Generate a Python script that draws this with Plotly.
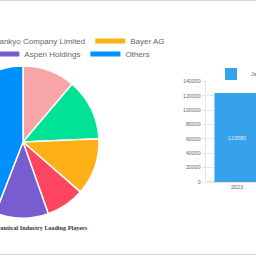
import plotly.graph_objects as go

# ---- data ----
player_labels = ["Takeda Pharmaceutical", "Daiichi Sankyo Company Limited", "Bayer AG",
                 "Pfizer Inc", "Aspen Holdings", "Others"]
player_shares = [11.2, 13.1, 12.1, 8.2, 11.3, 44.1]
player_colors = ["#F8A5A8", "#00E396", "#FEB019", "#FF4560", "#775DD0", "#008FFB"]
pie_title = "Japan Pharmaceutical Industry Leading Players"

bar_years = ["2023"]
bar_values = [123580]
bar_series = "Japan"
bar_color = "#36A2EB"

# ---- geometry (figure is wider than window; left part is hidden like the reference) ----
SHIFT = 140
W, H = 256 + SHIFT, 256

def px(x):
    return (x + SHIFT) / W

def py(y):
    return 1 - y / H

fig = go.Figure()

fig.add_trace(go.Pie(
    labels=player_labels, values=player_shares, sort=False, direction="clockwise",
    rotation=0, marker=dict(colors=player_colors, line=dict(color="white", width=1.5)),
    textinfo="none", hoverinfo="label+percent", showlegend=False,
    domain=dict(x=[px(-53), px(99)], y=[py(218), py(66)]),
))

# legend entries for the pie (two rows, as in the reference)
for i, (lab, col) in enumerate(zip(player_labels, player_colors)):
    fig.add_trace(go.Scatter(
        x=[None], y=[None], mode="lines", name=lab,
        line=dict(color=col, width=5), xaxis="x2", yaxis="y2",
        legend="legend" if i < 3 else "legend3", hoverinfo="skip"))

fig.add_trace(go.Bar(
    x=bar_years, y=bar_values, name=bar_series, marker=dict(color=bar_color, line=dict(width=0)),
    text=[str(v) for v in bar_values], textposition="inside", insidetextanchor="middle",
    textfont=dict(color="rgba(255,255,255,0.85)", size=5.5), legend="legend2", hoverinfo="y",
))

grid = "#e5e5e5"
legend_font = dict(family="Liberation Sans, Arial, sans-serif", size=8, color="#666")

fig.update_layout(
    width=W, height=H, autosize=False,
    margin=dict(l=0, r=0, t=0, b=0, autoexpand=False),
    paper_bgcolor="white", plot_bgcolor="white",
    font=dict(family="Liberation Sans, Arial, sans-serif", color="#666"),
    bargap=0.28,
    xaxis=dict(domain=[px(205.7), 1], range=[-0.5, 0.3035], type="category",
               showgrid=False, zeroline=False, showline=False, ticks="",
               tickfont=dict(size=5.5, color="#666"), fixedrange=True),
    yaxis=dict(domain=[py(182), py(81.3)], range=[0, 140000], dtick=20000, tickformat="d",
               showgrid=True, gridcolor=grid, gridwidth=1, zeroline=True, zerolinecolor=grid,
               showline=True, linecolor=grid, ticks="outside", ticklen=3, tickcolor=grid,
               tickfont=dict(size=5.3, color="#666"), fixedrange=True),
    xaxis2=dict(visible=False, domain=[0, 0.01]),
    yaxis2=dict(visible=False, domain=[0, 0.01]),
    legend=dict(orientation="h", xanchor="right", yanchor="middle",
                x=px(170.5), y=py(41), font=legend_font, itemwidth=30,
                bgcolor="rgba(0,0,0,0)", itemclick=False),
    legend3=dict(orientation="h", xanchor="right", yanchor="middle",
                 x=px(155), y=py(54), font=legend_font, itemwidth=30,
                 bgcolor="rgba(0,0,0,0)", itemclick=False),
    legend2=dict(orientation="h", xanchor="left", yanchor="middle",
                 x=px(211), y=py(74), font=dict(size=5.5, color="#666"),
                 bgcolor="rgba(0,0,0,0)", itemclick=False),
    annotations=[dict(text="<b>" + pie_title + "</b>", xref="paper", yref="paper",
                      x=px(23), y=py(227), xanchor="center", yanchor="middle", showarrow=False,
                      font=dict(family="Liberation Serif, Times New Roman, serif", size=6.2,
                                color="#333"))],
    shapes=[
        dict(type="line", xref="paper", yref="paper", x0=0, x1=1, y0=py(0.5), y1=py(0.5),
             line=dict(color="#d4d4d4", width=1)),
        dict(type="line", xref="paper", yref="paper", x0=0, x1=1, y0=py(254.5), y1=py(254.5),
             line=dict(color="#d4d4d4", width=1)),
    ],
)

fig.write_html(
    "out.html",
    post_script=("document.body.style.margin='0';document.body.style.overflow='hidden';"
                 "document.getElementById('{plot_id}').style.marginLeft='-%dpx';" % SHIFT),
)
